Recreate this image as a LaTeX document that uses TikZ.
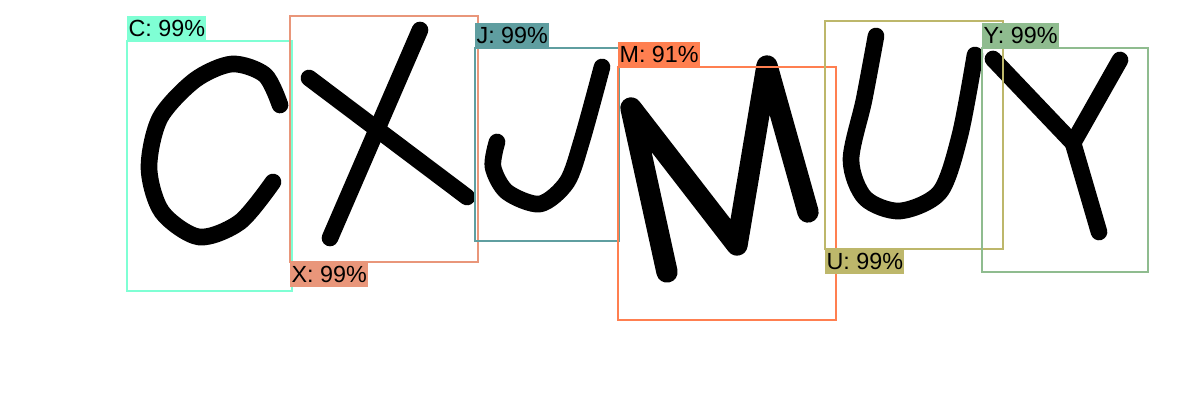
\documentclass[tikz,border=0pt]{standalone}
\usepackage{fontspec}
\setmainfont{Liberation Sans}
\usepackage{tikz}
\usetikzlibrary{positioning}

\definecolor{cC}{RGB}{127,255,212}
\definecolor{cX}{RGB}{233,150,122}
\definecolor{cJ}{RGB}{95,158,160}
\definecolor{cM}{RGB}{255,127,80}
\definecolor{cU}{RGB}{189,183,107}
\definecolor{cY}{RGB}{143,188,143}

\tikzset{
  ink/.style={line width=12.5pt,line cap=round,line join=round},
  inkwide/.style={line width=16pt,line cap=round,line join=round},
  frame/.style={line width=1.5pt},
  tag/.style={inner xsep=1pt,inner ysep=0pt,minimum height=18.75pt,
    font=\fontsize{17.5}{19}\selectfont}
}

\begin{document}
\begin{tikzpicture}[x=0.75pt,y=-0.75pt]
\useasboundingbox (0,0) rectangle (1200,420);
% handwritten letters
\draw[ink] plot[smooth] coordinates {(280,105) (265,75) (232,64) (195,80) (160,118) (149,168) (162,212) (199,237) (240,222) (273,182)};
\draw[ink] (309,78) -- (467,197);
\draw[ink] (420,30) -- (330,238);
\draw[ink] plot[smooth] coordinates {(602,67) (582,140) (567,182) (540,204) (507,192) (493,167) (497,142)};
\draw[inkwide] (667,272) -- (631,108) -- (737,245) -- (767,66) -- (808,212);
\draw[ink] plot[smooth] coordinates {(876,36) (864,100) (851,160) (865,198) (900,211) (940,192) (960,135) (975,55)};
\draw[ink] (993,59) -- (1073,143) -- (1120,60);
\draw[ink] (1073,143) -- (1099,232);
% detection boxes
\coordinate (C1) at (127,41);  \coordinate (C2) at (292,291);
\coordinate (X1) at (290,16);  \coordinate (X2) at (478,262);
\coordinate (J1) at (475,48);  \coordinate (J2) at (619,241);
\coordinate (M1) at (618,67);  \coordinate (M2) at (836,320);
\coordinate (U1) at (825,21);  \coordinate (U2) at (1003,249);
\coordinate (Y1) at (982,48);  \coordinate (Y2) at (1148,272);
\draw[frame,cC] (C1) rectangle (C2);
\draw[frame,cX] (X1) rectangle (X2);
\draw[frame,cJ] (J1) rectangle (J2);
\draw[frame,cM] (M1) rectangle (M2);
\draw[frame,cU] (U1) rectangle (U2);
\draw[frame,cY] (Y1) rectangle (Y2);
% labels
\node[tag,fill=cC,anchor=south west] (labC) at (C1) {C: 99\%};
\node[tag,fill=cX,anchor=north west] (labX) at (X1 |- X2) {X: 99\%};
\node[tag,fill=cJ,anchor=south west] (labJ) at (J1) {J: 99\%};
\node[tag,fill=cM,anchor=south west] (labM) at (M1) {M: 91\%};
\node[tag,fill=cU,anchor=north west] (labU) at (U1 |- U2) {U: 99\%};
\node[tag,fill=cY,anchor=south west] (labY) at (Y1) {Y: 99\%};
\end{tikzpicture}
\end{document}
